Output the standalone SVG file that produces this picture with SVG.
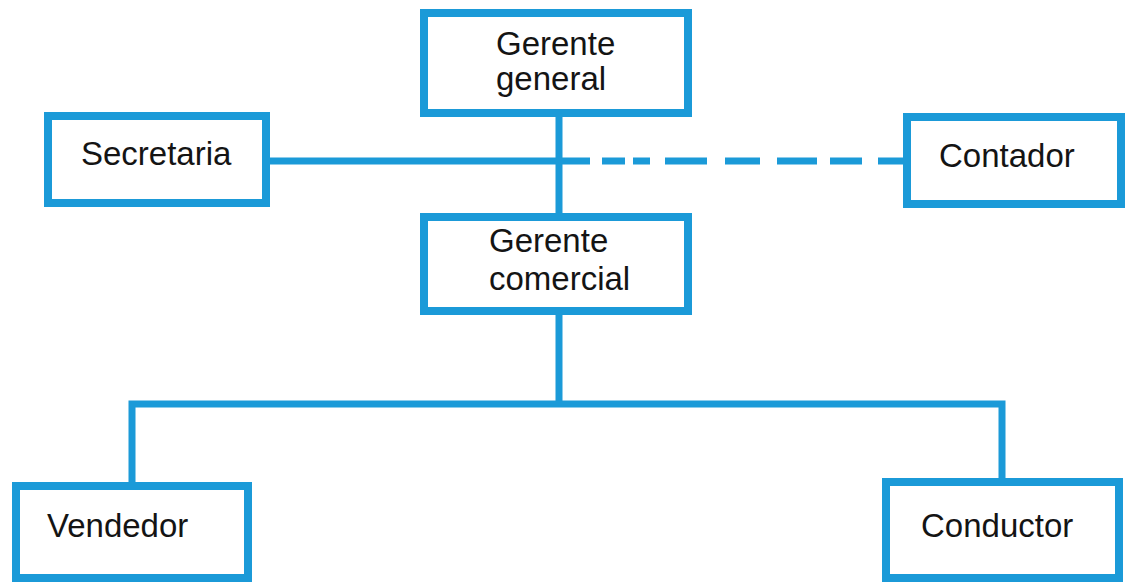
<svg xmlns="http://www.w3.org/2000/svg" width="1127" height="584" viewBox="0 0 1127 584">
<style>
.box{fill:#fff;stroke:#1b9ad8;stroke-width:8}
.ln{fill:none;stroke:#1b9ad8;stroke-width:7}
text{font-family:"Liberation Sans",Arial,sans-serif;font-size:33px;fill:#141414}
</style>
<rect width="1127" height="584" fill="#fff"/>
<g id="connectors">
<path class="ln" d="M559 117V213M266 161H590M559 315V404M132 482V404H1002V478"/>
<path class="ln" d="M602 161H625M633 161H650M665 161H707M725 161H760M777 161H817M830 161H862M878 161H907"/>
</g>
<g id="gerente-general"><rect class="box" x="424" y="13" width="264" height="100"/><text x="496" y="55">Gerente</text><text x="496" y="90">general</text></g>
<g id="gerente-comercial"><rect class="box" x="424" y="217" width="264" height="94"/><text x="489" y="252">Gerente</text><text x="489" y="290">comercial</text></g>
<g id="secretaria"><rect class="box" x="48" y="116" width="218" height="87"/><text x="81" y="165">Secretaria</text></g>
<g id="contador"><rect class="box" x="907" y="117" width="214" height="87"/><text x="939" y="167">Contador</text></g>
<g id="vendedor"><rect class="box" x="16" y="486" width="232" height="92"/><text x="47" y="537">Vendedor</text></g>
<g id="conductor"><rect class="box" x="886" y="482" width="233" height="96"/><text x="921" y="537">Conductor</text></g>
</svg>
